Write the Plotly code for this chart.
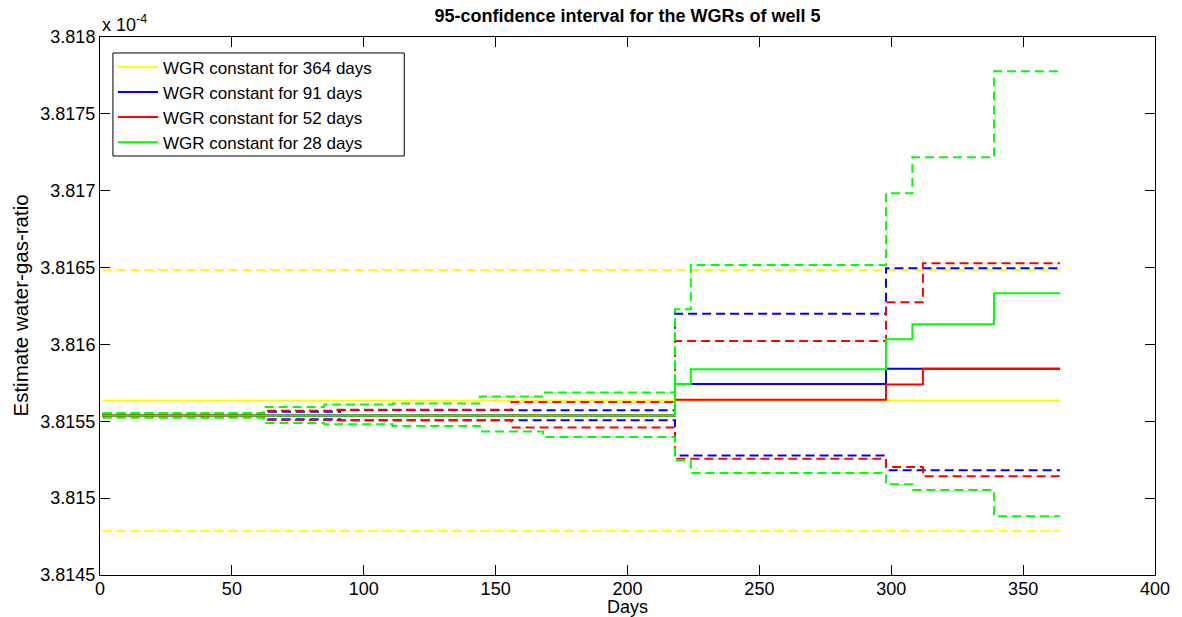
import plotly.graph_objects as go

# ---- data (values in units of 1e-4) ----
last_day = 364

yellow_days = [1]
yellow_est = [3.815636]
yellow_up = [3.816484]
yellow_lo = [3.814786]

blue_days = [1, 62, 91, 218, 298]
blue_est = [3.815538, 3.815538, 3.815538, 3.815742, 3.815841]
blue_up = [3.815545, 3.815562, 3.815571, 3.816199, 3.816496]
blue_lo = [3.815532, 3.815513, 3.815506, 3.815278, 3.815181]

red_days = [1, 62, 90, 156, 218, 298, 312]
red_est = [3.815538, 3.815538, 3.815538, 3.815538, 3.815640, 3.815739, 3.815841]
red_up = [3.815545, 3.815569, 3.815575, 3.815625, 3.816023, 3.816275, 3.816528]
red_lo = [3.815532, 3.815508, 3.815506, 3.815460, 3.815257, 3.815203, 3.815142]

green_days = [1, 62, 85, 111, 144, 168, 218, 224, 298, 308, 339]
green_est = [3.815538, 3.815538, 3.815538, 3.815538, 3.815538, 3.815538,
             3.815742, 3.815839, 3.816034, 3.816132, 3.816333]
green_up = [3.815554, 3.815593, 3.815610, 3.815616, 3.815662, 3.815688,
            3.816229, 3.816517, 3.816983, 3.817217, 3.817777]
green_lo = [3.815523, 3.815489, 3.815481, 3.815469, 3.815434, 3.815398,
            3.815246, 3.815164, 3.815090, 3.815053, 3.814882]

x_ticks = [0, 50, 100, 150, 200, 250, 300, 350, 400]
y_ticks = [3.8145, 3.815, 3.8155, 3.816, 3.8165, 3.817, 3.8175, 3.818]
y_ticktext = ["3.8145", "3.815", "3.8155", "3.816", "3.8165", "3.817", "3.8175", "3.818"]

series = [
    ("WGR constant for 364 days", "#FFFF00", yellow_days, yellow_est, yellow_up, yellow_lo),
    ("WGR constant for 91 days", "#0000FF", blue_days, blue_est, blue_up, blue_lo),
    ("WGR constant for 52 days", "#FF0000", red_days, red_est, red_up, red_lo),
    ("WGR constant for 28 days", "#00FF00", green_days, green_est, green_up, green_lo),
]

FONT = "Liberation Sans, Arial, sans-serif"


def steps(days, vals):
    return days + [last_day], vals + [vals[-1]]


fig = go.Figure()
for name, color, days, est, up, lo in series:
    x, y = steps(days, est)
    fig.add_trace(go.Scatter(x=x, y=y, mode="lines", name=name, line_shape="hv",
                             line=dict(color=color, width=2), showlegend=True))
    for band in (up, lo):
        x, y = steps(days, band)
        fig.add_trace(go.Scatter(x=x, y=y, mode="lines", line_shape="hv",
                                 line=dict(color=color, width=2, dash="9px,5px"),
                                 showlegend=False, hoverinfo="skip"))

axis_common = dict(showline=True, linecolor="black", linewidth=1, mirror="ticks",
                   ticks="inside", ticklen=10, tickcolor="black", showgrid=False,
                   zeroline=False, tickfont=dict(family=FONT, size=18, color="black"))

fig.update_layout(
    width=1182, height=617,
    margin=dict(l=100, r=21, t=37, b=42),
    paper_bgcolor="white", plot_bgcolor="white",
    font=dict(family=FONT, color="black"),
    title=dict(text="<b>95-confidence interval for the WGRs of well 5</b>",
               x=0.5, xref="paper", xanchor="center",
               y=1 - 16 / 617, yref="container", yanchor="middle",
               font=dict(family=FONT, size=18, color="black")),
    xaxis=dict(range=[0, 400], tickvals=x_ticks, ticklabelstandoff=-3, **axis_common),
    yaxis=dict(range=[3.8145, 3.818], tickvals=y_ticks, ticktext=y_ticktext, **axis_common),
    legend=dict(x=0.0123, y=0.977, xanchor="left", yanchor="top",
                borderwidth=0, bgcolor="rgba(0,0,0,0)",
                font=dict(family=FONT, size=17, color="black"),
                itemwidth=40, tracegroupgap=0),
    showlegend=True,
    shapes=[
        dict(type="rect", xref="paper", yref="paper", x0=0.01225, x1=0.2884,
             y0=0.7788, y1=0.9703, line=dict(color="black", width=1),
             fillcolor="white", layer="above"),
    ],
    annotations=[
        dict(text="x 10<sup>-4</sup>", x=0, y=1, xref="paper", yref="paper",
             xanchor="left", yanchor="bottom", showarrow=False,
             font=dict(family=FONT, size=18, color="black")),
        dict(text="Estimate water-gas-ratio", x=-0.0763, y=0.5, xref="paper", yref="paper",
             xanchor="center", yanchor="middle", textangle=-90, showarrow=False,
             font=dict(family=FONT, size=20.5, color="black")),
        dict(text="Days", x=0.5, y=-0.0595, xref="paper", yref="paper",
             xanchor="center", yanchor="middle", showarrow=False,
             font=dict(family=FONT, size=18, color="black")),
    ],
)

fig.write_html("out.html")
